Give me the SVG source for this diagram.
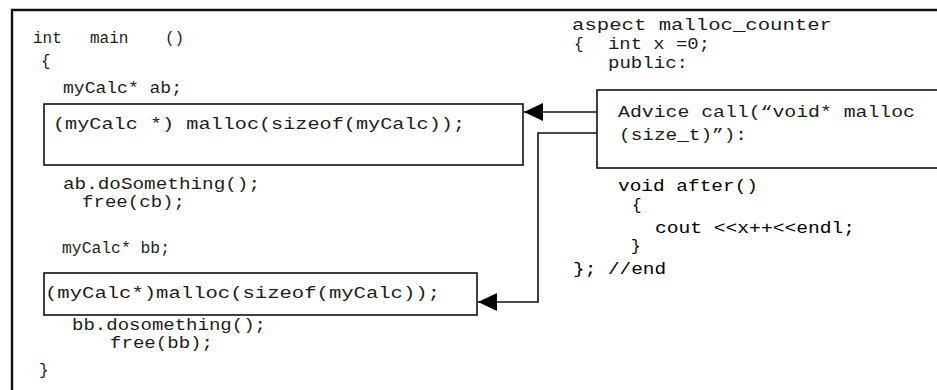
<svg xmlns="http://www.w3.org/2000/svg" width="937" height="390" viewBox="0 0 937 390">
<style>
  .code { font-family: "Liberation Mono", "Courier New", monospace; font-size: 16px; fill: #1c1c1c; }
  .dark { fill: #000; }
  .box { fill: #fff; stroke: #111; stroke-width: 1.6; }
  .frame { fill: none; stroke: #111; stroke-width: 2.4; }
  .conn { fill: none; stroke: #111; stroke-width: 1.6; }
</style>
<defs>
  <marker id="arrow" viewBox="0 0 19 18" refX="19" refY="9" markerWidth="19" markerHeight="18" markerUnits="userSpaceOnUse" orient="auto">
    <path d="M0,0 L19,9 L0,18 Z" fill="#000"/>
  </marker>
</defs>
<rect width="937" height="390" fill="#fff"/>

<g id="frame">
  <path class="frame" d="M12,392 V10 H940"/>
</g>

<g id="main-code">
  <text class="code" y="43"><tspan x="33">int</tspan><tspan x="90">main</tspan><tspan x="165">()</tspan></text>
  <text class="code" x="41" y="66">{</text>
  <text class="code" x="63" y="93" textLength="119" lengthAdjust="spacingAndGlyphs">myCalc* ab;</text>
  <text class="code" x="63" y="189" textLength="197" lengthAdjust="spacingAndGlyphs">ab.doSomething();</text>
  <text class="code" x="82" y="207" textLength="103" lengthAdjust="spacingAndGlyphs">free(cb);</text>
  <text class="code" x="62" y="253" textLength="108" lengthAdjust="spacingAndGlyphs">myCalc* bb;</text>
  <text class="code" x="72" y="330" textLength="194" lengthAdjust="spacingAndGlyphs">bb.dosomething();</text>
  <text class="code" x="110" y="348" textLength="103" lengthAdjust="spacingAndGlyphs">free(bb);</text>
  <text class="code" x="39" y="375">}</text>
</g>

<g id="malloc-call-1">
  <rect class="box" x="44" y="104" width="479" height="61"/>
  <text class="code" x="53" y="129" textLength="412" lengthAdjust="spacingAndGlyphs">(myCalc *) malloc(sizeof(myCalc));</text>
</g>

<g id="malloc-call-2">
  <rect class="box" x="44" y="273" width="433" height="42"/>
  <text class="code" x="45" y="298" textLength="395" lengthAdjust="spacingAndGlyphs">(myCalc*)malloc(sizeof(myCalc));</text>
</g>

<g id="aspect-code">
  <text class="code" x="572" y="30" textLength="260" lengthAdjust="spacingAndGlyphs">aspect  malloc_counter</text>
  <text class="code" x="574" y="49">{</text>
  <text class="code" x="608" y="49" textLength="102" lengthAdjust="spacingAndGlyphs">int x =0;</text>
  <text class="code" x="608" y="68" textLength="80" lengthAdjust="spacingAndGlyphs">public:</text>
  <text class="code dark" x="618" y="191" textLength="140" lengthAdjust="spacingAndGlyphs">void after()</text>
  <text class="code dark" x="632" y="210">{</text>
  <text class="code dark" x="655" y="233" textLength="200" lengthAdjust="spacingAndGlyphs">cout &lt;&lt;x++&lt;&lt;endl;</text>
  <text class="code dark" x="631" y="251">}</text>
  <text class="code dark" x="573" y="274" textLength="93" lengthAdjust="spacingAndGlyphs">}; //end</text>
</g>

<g id="advice">
  <rect class="box" x="597" y="90" width="360" height="78"/>
  <text class="code" x="618" y="117" textLength="297" lengthAdjust="spacingAndGlyphs">Advice call(“void* malloc</text>
  <text class="code" x="619" y="140" textLength="128" lengthAdjust="spacingAndGlyphs">(size_t)”):</text>
</g>

<g id="connectors">
  <path class="conn" d="M597,112 H524" marker-end="url(#arrow)"/>
  <path class="conn" d="M597,133 H538 V302 H478" marker-end="url(#arrow)"/>
</g>
</svg>
